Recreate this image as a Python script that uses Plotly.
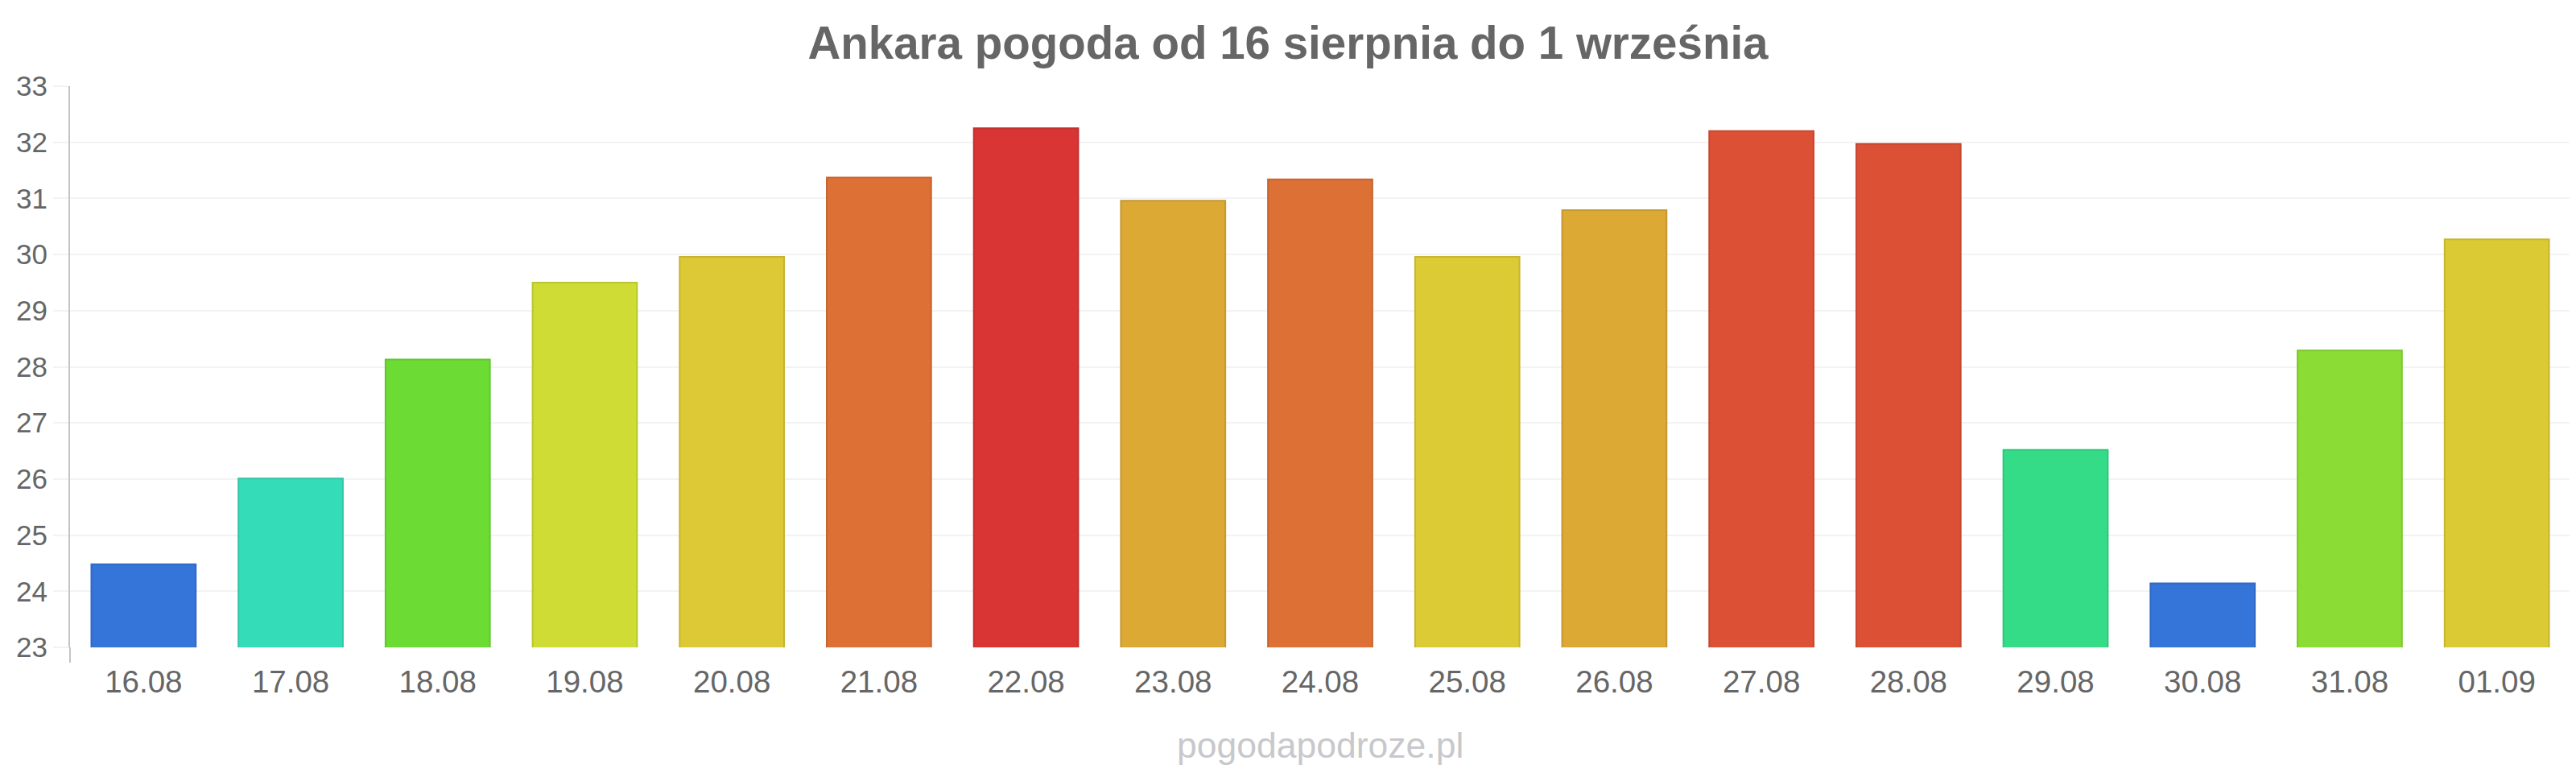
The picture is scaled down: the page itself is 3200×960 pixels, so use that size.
import plotly.graph_objects as go

categories = ["16.08", "17.08", "18.08", "19.08", "20.08", "21.08", "22.08", "23.08", "24.08",
              "25.08", "26.08", "27.08", "28.08", "29.08", "30.08", "31.08", "01.09"]
temperatures = [24.48, 26.01, 28.13, 29.50, 29.96, 31.37, 32.25, 30.96, 31.34,
                29.96, 30.79, 32.20, 31.97, 26.52, 24.14, 28.29, 30.27]
fill_colors = ["#3574d9", "#35dcb8", "#6cdc35", "#cfdc35", "#dcc935", "#dc7035", "#da3535",
               "#dca935", "#dc7035", "#dccb35", "#dca935", "#dc5035", "#dc5035", "#35dc88",
               "#3574d9", "#8bdc35", "#dcca35"]
border_colors = ["#3068c4", "#30c6a5", "#61c630", "#bac630", "#c6b430", "#c66530", "#c43030",
                 "#c69830", "#c66530", "#c6b630", "#c69830", "#c64830", "#c64830", "#30c67a",
                 "#3068c4", "#7dc630", "#c6b530"]
title_text = "Ankara pogoda od 16 sierpnia do 1 września"
footer_text = "pogodapodroze.pl"
y_range = [23, 33]

FONT = "Liberation Sans, Arial, sans-serif"

# the page body adds an 8px offset; margins below compensate for it
TOP = 99
PLOT_H = 697

fig = go.Figure(go.Bar(
    x=categories,
    y=temperatures,
    marker=dict(color=fill_colors, line=dict(color=border_colors, width=2)),
    hoverinfo="x+y",
))

fig.update_layout(
    width=3200, height=960,
    margin=dict(l=69, r=15, t=TOP, b=960 - TOP - PLOT_H),
    paper_bgcolor="white", plot_bgcolor="white",
    bargap=0.29,
    showlegend=False,
    title=dict(text="<b>" + title_text + "</b>", x=1592 / 3200, xanchor="center",
               y=1 - 45 / 960, yanchor="middle",
               font=dict(family=FONT, size=56.5, color="#666666")),
    font=dict(family=FONT, color="#666666"),
)

fig.update_xaxes(
    type="category",
    showgrid=False, zeroline=False, showline=False,
    ticks="outside", ticklen=0, ticklabelstandoff=9,
    tickfont=dict(family=FONT, size=38.5, color="#666666"),
)
fig.update_yaxes(
    range=y_range, dtick=1, tick0=23,
    showgrid=True, gridcolor="#f3f3f3", gridwidth=2,
    zeroline=False,
    showline=True, linecolor="#c4c4c4", linewidth=2,
    ticks="outside", ticklen=19, tickwidth=2, tickcolor="#f3f3f3",
    tickfont=dict(family=FONT, size=35, color="#666666"),
)

# extension of the left axis line below the plot bottom
fig.add_shape(type="line", xref="paper", yref="paper", x0=0, x1=0, y0=0, y1=-19 / PLOT_H,
              line=dict(color="#c4c4c4", width=2))

fig.add_annotation(text=footer_text, xref="paper", yref="paper", x=0.5, y=-121 / PLOT_H,
                   xanchor="center", yanchor="middle", showarrow=False,
                   font=dict(family=FONT, size=44.5, color="#c8c8cc"))

fig.write_html("out.html")
